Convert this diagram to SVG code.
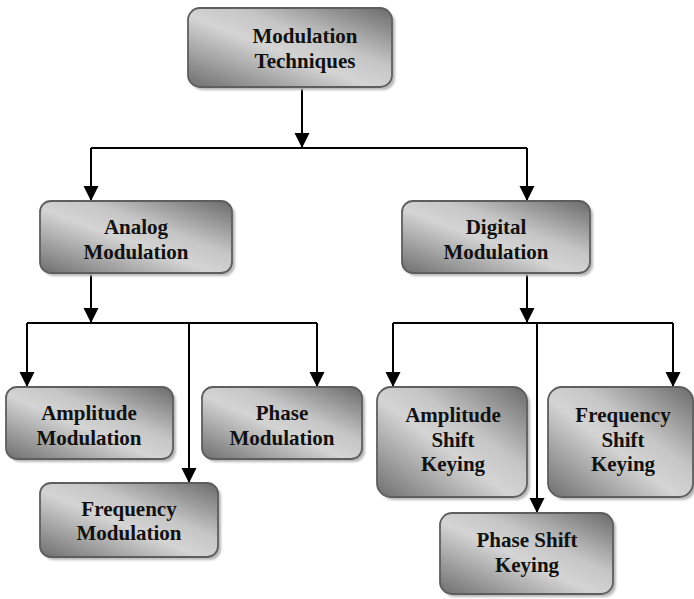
<svg xmlns="http://www.w3.org/2000/svg" width="694" height="599" viewBox="0 0 694 599">
<style>
.box{fill:url(#g);stroke:#5e5e5e;stroke-width:1.8}
.sh{fill:#b8b8b8;filter:url(#blur)}
.t{font-family:"Liberation Serif","Times New Roman",serif;font-weight:bold;font-size:21px;fill:#111;text-anchor:middle}
.c{fill:none;stroke:#000;stroke-width:2}
.a{marker-end:url(#arr)}
</style>
<defs>
<linearGradient id="g" x1="0" y1="1" x2="1" y2="0">
<stop offset="0" stop-color="#6e6e6e"/>
<stop offset="0.45" stop-color="#d4d4d4"/>
<stop offset="0.62" stop-color="#c6c6c6"/>
<stop offset="1" stop-color="#6a6a6a"/>
</linearGradient>
<filter id="blur" x="-10%" y="-10%" width="120%" height="130%"><feGaussianBlur stdDeviation="1.2"/></filter>
<marker id="arr" markerUnits="userSpaceOnUse" markerWidth="16" markerHeight="16" viewBox="0 0 16 16" refX="15" refY="8" orient="auto">
<path d="M0,0.5 L15,8 L0,15.5 Z" fill="#000"/>
</marker>
</defs>
<g id="connectors">
<path class="c a" d="M302,87 V148"/>
<path class="c" d="M91,148 H527"/>
<path class="c a" d="M91,148 V201"/>
<path class="c a" d="M527,148 V201"/>
<path class="c a" d="M91,273 V323"/>
<path class="c" d="M27,323 H317"/>
<path class="c a" d="M27,323 V387"/>
<path class="c a" d="M317,323 V387"/>
<path class="c a" d="M189,323 V483"/>
<path class="c a" d="M527,273 V323"/>
<path class="c" d="M393,323 H673"/>
<path class="c a" d="M393,323 V387"/>
<path class="c a" d="M673,323 V387"/>
<path class="c a" d="M537,323 V513"/>
</g>
<g id="modulation-techniques">
<rect class="sh" x="191" y="11" width="204" height="79" rx="12"/>
<rect class="box" x="188" y="8" width="204" height="79" rx="12"/>
<text class="t" x="305" y="43">Modulation</text>
<text class="t" x="305" y="68">Techniques</text>
</g>
<g id="analog-modulation">
<rect class="sh" x="43" y="204" width="192" height="72" rx="11"/>
<rect class="box" x="40" y="201" width="192" height="72" rx="11"/>
<text class="t" x="136" y="234">Analog</text>
<text class="t" x="136" y="259">Modulation</text>
</g>
<g id="digital-modulation">
<rect class="sh" x="405" y="204" width="188" height="72" rx="11"/>
<rect class="box" x="402" y="201" width="188" height="72" rx="11"/>
<text class="t" x="496" y="234">Digital</text>
<text class="t" x="496" y="259">Modulation</text>
</g>
<g id="amplitude-modulation">
<rect class="sh" x="9" y="390" width="167" height="72" rx="11"/>
<rect class="box" x="6" y="387" width="167" height="72" rx="11"/>
<text class="t" x="89" y="420">Amplitude</text>
<text class="t" x="89" y="445">Modulation</text>
</g>
<g id="phase-modulation">
<rect class="sh" x="205" y="390" width="160" height="72" rx="11"/>
<rect class="box" x="202" y="387" width="160" height="72" rx="11"/>
<text class="t" x="282" y="420">Phase</text>
<text class="t" x="282" y="445">Modulation</text>
</g>
<g id="frequency-modulation">
<rect class="sh" x="43" y="486" width="178" height="74" rx="11"/>
<rect class="box" x="40" y="483" width="178" height="74" rx="11"/>
<text class="t" x="129" y="516">Frequency</text>
<text class="t" x="129" y="540">Modulation</text>
</g>
<g id="amplitude-shift-keying">
<rect class="sh" x="380" y="390" width="150" height="110" rx="14"/>
<rect class="box" x="377" y="387" width="150" height="110" rx="14"/>
<text class="t" x="453" y="422">Amplitude</text>
<text class="t" x="453" y="447">Shift</text>
<text class="t" x="453" y="471">Keying</text>
</g>
<g id="frequency-shift-keying">
<rect class="sh" x="551" y="390" width="145" height="110" rx="14"/>
<rect class="box" x="548" y="387" width="145" height="110" rx="14"/>
<text class="t" x="623" y="422">Frequency</text>
<text class="t" x="623" y="447">Shift</text>
<text class="t" x="623" y="471">Keying</text>
</g>
<g id="phase-shift-keying">
<rect class="sh" x="443" y="516" width="173" height="81" rx="12"/>
<rect class="box" x="440" y="513" width="173" height="81" rx="12"/>
<text class="t" x="527" y="547">Phase Shift</text>
<text class="t" x="527" y="572">Keying</text>
</g>
</svg>
